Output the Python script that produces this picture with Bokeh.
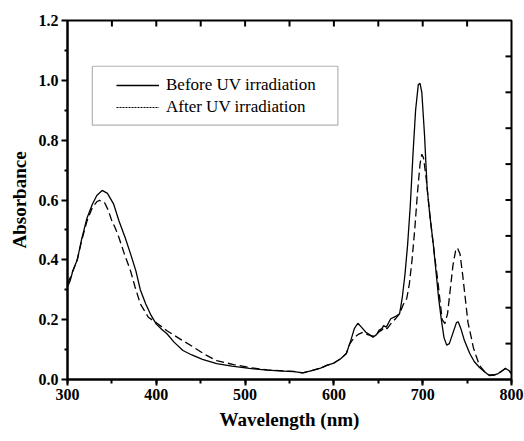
from bokeh.plotting import figure
from bokeh.models import (Range1d, SingleIntervalTicker, FixedTicker, ColumnDataSource,
                          PrintfTickFormatter, Legend, LegendItem, BoxAnnotation)
from bokeh.embed import file_html
from bokeh.resources import INLINE

# ---- data ----
before_nm = [300, 303, 306, 311, 316, 322, 328, 333, 339, 345, 352, 358, 365, 371, 377, 382,
             388, 394, 400, 406, 412, 420, 430, 440, 452, 468, 485, 505, 525, 543, 555, 565,
             575, 585, 592, 600, 608, 614, 619, 623, 627, 631, 636, 640, 644, 648, 651, 654,
             656, 659, 664, 669, 674, 677, 680, 683, 686, 689, 692, 695, 697, 699, 702, 705,
             708, 712, 715, 718, 721, 724, 727, 730, 734, 738, 740, 743, 747, 753, 758, 764,
             770, 775, 780, 785, 790, 793, 797, 800]
before_abs = [0.31, 0.33, 0.363, 0.40, 0.47, 0.54, 0.586, 0.615, 0.632, 0.622, 0.586, 0.53,
              0.474, 0.42, 0.363, 0.30, 0.253, 0.215, 0.185, 0.168, 0.153, 0.125, 0.097,
              0.082, 0.067, 0.053, 0.045, 0.037, 0.031, 0.028, 0.026, 0.022, 0.03, 0.038,
              0.047, 0.055, 0.07, 0.087, 0.13, 0.17, 0.188, 0.175, 0.158, 0.15, 0.141, 0.15,
              0.165, 0.17, 0.18, 0.175, 0.203, 0.21, 0.22, 0.274, 0.35, 0.45, 0.58, 0.75,
              0.90, 0.985, 0.99, 0.96, 0.82, 0.64, 0.55, 0.45, 0.36, 0.27, 0.20, 0.14, 0.115,
              0.12, 0.155, 0.19, 0.193, 0.17, 0.13, 0.087, 0.06, 0.04, 0.025, 0.013, 0.015,
              0.02, 0.03, 0.037, 0.03, 0.02]

after_nm = [300, 303, 306, 311, 316, 322, 328, 333, 336, 342, 346, 350, 354, 358, 364, 371,
            376, 382, 391, 400, 412, 427, 442, 455, 468, 487, 505, 525, 543, 555, 565, 575,
            585, 592, 600, 608, 614, 618, 623, 628, 633, 638, 644, 648, 651, 654, 657, 660,
            665, 670, 674, 678, 682, 685, 688, 691, 694, 697, 699, 701, 704, 707, 710, 714,
            717, 720, 722, 725, 728, 731, 734, 737, 739, 742, 745, 748, 751, 754, 757, 760,
            764, 770, 775, 780, 785, 790, 793, 797, 800]
after_abs = [0.32, 0.34, 0.363, 0.40, 0.465, 0.53, 0.575, 0.594, 0.599, 0.59, 0.565, 0.53,
             0.505, 0.474, 0.42, 0.363, 0.31, 0.253, 0.208, 0.19, 0.163, 0.135, 0.108, 0.083,
             0.063, 0.05, 0.04, 0.032, 0.029, 0.027, 0.022, 0.03, 0.038, 0.047, 0.055, 0.07,
             0.087, 0.12, 0.14, 0.152, 0.158, 0.15, 0.145, 0.15, 0.16, 0.165, 0.175, 0.17,
             0.19, 0.205, 0.22, 0.25, 0.27, 0.32, 0.40, 0.50, 0.62, 0.72, 0.753, 0.74, 0.67,
             0.58, 0.50, 0.40, 0.33, 0.25, 0.20, 0.187, 0.22, 0.30, 0.38, 0.43, 0.44, 0.42,
             0.35, 0.27, 0.19, 0.15, 0.107, 0.08, 0.047, 0.025, 0.015, 0.015, 0.02, 0.03,
             0.037, 0.03, 0.02]

series_labels = ["Before UV irradiation", "After UV irradiation"]
x_title = "Wavelength (nm)"
y_title = "Absorbance"

y_major = [0.0, 0.2, 0.4, 0.6, 0.8, 1.0, 1.2]
y_minor = [0.1, 0.3, 0.5, 0.7, 0.9, 1.1]
top_ticks = [350, 400, 450, 500, 550, 600, 650, 700, 750]
right_ticks = [0.12, 0.24, 0.36, 0.48, 0.60, 0.72, 0.84, 0.96, 1.08]

SERIF = "Liberation Serif"
X0, X1, Y0, Y1 = 300, 800, 0.0, 1.2

p = figure(width=524, height=441, output_backend="svg", toolbar_location=None,
           x_range=Range1d(X0, X1), y_range=Range1d(Y0, Y1),
           min_border_left=67, min_border_right=13, min_border_top=20, min_border_bottom=62)
p.grid.visible = False
p.outline_line_color = "black"
p.outline_line_width = 2
p.background_fill_color = "white"
p.border_fill_color = "white"

r_before = p.line(before_nm, before_abs, line_color="black", line_width=1.3)
r_after = p.line(after_nm, after_abs, line_color="black", line_width=1.3, line_dash="8 4")
r_after_key = p.line(x=[float("nan")], y=[float("nan")], line_color="black",
                     line_width=1.2, line_dash="2 1")

# inward ticks on the top and right frame edges (6 px long)
tick_len_y = 6 * (Y1 - Y0) / 359.0
tick_len_x = 6 * (X1 - X0) / 444.0
top_src = ColumnDataSource(data=dict(
    xa=list(top_ticks), xb=list(top_ticks),
    ya=[Y1] * len(top_ticks), yb=[Y1 - tick_len_y] * len(top_ticks)))
right_src = ColumnDataSource(data=dict(
    xa=[X1] * len(right_ticks), xb=[X1 - tick_len_x] * len(right_ticks),
    ya=list(right_ticks), yb=list(right_ticks)))
for src in (top_src, right_src):
    p.segment(x0="xa", y0="ya", x1="xb", y1="yb", source=src,
              line_color="black", line_width=2, level="overlay")

# bottom / left axes
xa = p.xaxis[0]
xa.ticker = SingleIntervalTicker(interval=100, num_minor_ticks=2)
xa.axis_label = x_title
ya = p.yaxis[0]
ya.ticker = FixedTicker(ticks=y_major, minor_ticks=y_minor)
ya.formatter = PrintfTickFormatter(format="%.1f")
ya.axis_label = y_title
for ax in (xa, ya):
    ax.axis_line_width = 2
    ax.major_tick_line_width = 2
    ax.minor_tick_line_width = 2
    ax.major_tick_in = 0
    ax.major_tick_out = 6
    ax.minor_tick_in = 0
    ax.minor_tick_out = 4
    ax.major_label_text_font = SERIF
    ax.major_label_text_font_style = "bold"
    ax.major_label_text_font_size = "16px"
    ax.major_label_text_color = "black"
    ax.axis_label_text_font = SERIF
    ax.axis_label_text_font_style = "bold"
    ax.axis_label_text_font_size = "19px"
    ax.axis_label_text_color = "black"
    ax.major_label_standoff = 3
    ax.axis_label_standoff = 6
ya.minor_tick_out = 3

# legend box
box = BoxAnnotation(left=328, right=604.5, bottom=0.85, top=1.047,
                    fill_alpha=0, line_color="black", line_width=1.2)
p.add_layout(box)

legend = Legend(items=[LegendItem(label=series_labels[0], renderers=[r_before]),
                       LegendItem(label=series_labels[1], renderers=[r_after_key])],
                location=(49, 261), padding=0, margin=0, spacing=0,
                glyph_width=43, glyph_height=22, label_height=22, label_standoff=7,
                border_line_alpha=0, background_fill_alpha=0,
                label_text_font=SERIF, label_text_font_size="17px", label_text_color="black")
p.add_layout(legend, "center")

open("out.html", "w").write(file_html(p, INLINE))
